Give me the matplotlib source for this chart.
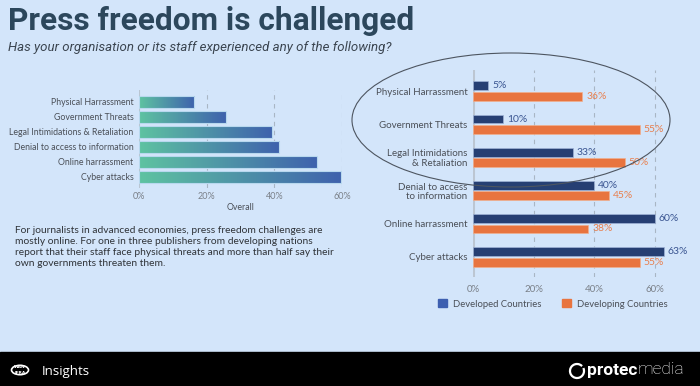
import numpy as np
import matplotlib
matplotlib.use("Agg")
import matplotlib.pyplot as plt
from matplotlib.colors import LinearSegmentedColormap
from matplotlib.patches import Ellipse, Rectangle, Circle, Arc

# overall chart (left)
overall_labels = ["Physical Harrassment", "Government Threats",
                  "Legal Intimidations & Retaliation", "Denial to access to information",
                  "Online harrassment", "Cyber attacks"]
overall_values = [16.3, 25.7, 39.3, 41.4, 52.6, 59.7]

# split chart (right)
split_labels = ["Physical Harrassment", "Government Threats",
                "Legal Intimidations\n& Retaliation", "Denial to access\nto information",
                "Online harrassment", "Cyber attacks"]
developed = [5, 10, 33, 40, 60, 63]
developing = [36, 55, 50, 45, 38, 55]
ticks = [0, 20, 40, 60]
tick_labels = ["0%", "20%", "40%", "60%"]

W, H = 700, 386
BG = "#d3e5fa"
TXT = "#4a4f57"
NAVY = "#263f73"
ORANGE = "#e8743f"

fig = plt.figure(figsize=(W / 100, H / 100), dpi=100)
fig.patch.set_facecolor(BG)


def fx(x):
    return x / W


def fy(y):
    return 1 - y / H


def add_axes_px(left, top, right, bottom):
    return fig.add_axes([fx(left), fy(bottom), (right - left) / W, (bottom - top) / H])


# title and subtitle
fig.text(fx(8), fy(21), "Press freedom is challenged", family="Roboto", weight="bold",
         fontsize=22.8, color="#2c475c", va="center", ha="left")
fig.text(fx(8), fy(47), "Has your organisation or its staff experienced any of the following?",
         family="Roboto", style="italic", fontsize=9.5, color="#3b4550", va="center", ha="left")

# ---- left chart: overall with gradient bars
ax1 = add_axes_px(139, 90, 342, 188)
ax1.set_facecolor("none")
y1 = np.arange(len(overall_labels))
for t in ticks[1:]:
    ax1.axvline(t, color="#a9b6c4", lw=0.8, ls=(0, (4, 4)), zorder=0)
ax1.axvline(0, color="#b9c5d2", lw=0.8, zorder=0)

cmap = LinearSegmentedColormap.from_list("tb", ["#5ec3a1", "#3f62ad"])
grad = np.linspace(0, 1, 256).reshape(1, -1)
bars = ax1.barh(y1, overall_values, height=0.82, facecolor="none",
                edgecolor="#b8d8ee", lw=0.8, zorder=3)
for b in bars:
    x0, yb = b.get_x(), b.get_y()
    im = ax1.imshow(grad, cmap=cmap, aspect="auto", zorder=2,
                    extent=[x0, x0 + b.get_width(), yb + b.get_height(), yb])
    im.set_clip_path(b)
ax1.set_xlim(0, 60)
ax1.set_ylim(5.75, -0.78)
ax1.set_yticks(y1)
ax1.set_yticklabels(overall_labels, family="Lato", fontsize=6.3, color=TXT)
ax1.set_xticks(ticks)
ax1.set_xticklabels(tick_labels, family="Lato", fontsize=6.5, color="#7a8088")
ax1.tick_params(length=0, pad=4)
ax1.tick_params(axis="x", pad=3)
ax1.set_xlabel("Overall", family="Lato", fontsize=6.3, color=TXT, labelpad=1)
for s in ax1.spines.values():
    s.set_visible(False)

# paragraph
para = ("For journalists in advanced economies, press freedom challenges are\n"
        "mostly online. For one in three publishers from developing nations\n"
        "report that their staff face physical threats and more than half say their\n"
        "own governments threaten them.")
fig.text(fx(15), fy(226), para, family="Lato", fontsize=7.4, color="#2f3338",
         va="top", ha="left", linespacing=1.28)

# ---- right chart: developed vs developing
ax2 = add_axes_px(473, 70, 670, 277)
ax2.set_facecolor("none")
y2 = np.arange(len(split_labels))
h = 0.27
ax2.barh(y2 - 0.16, developed, height=h, color=NAVY, edgecolor="#9fb3d6", lw=0.5,
         zorder=3, label="Developed Countries")
ax2.barh(y2 + 0.16, developing, height=h, color=ORANGE, edgecolor="#f1b08e", lw=0.5,
         zorder=3, label="Developing Countries")
for yy, v in zip(y2, developed):
    ax2.text(v + 1.3, yy - 0.16, f"{v}%", family="Lato", fontsize=7.5, color="#3a5591",
             va="center", ha="left", clip_on=False)
for yy, v in zip(y2, developing):
    ax2.text(v + 1.3, yy + 0.16, f"{v}%", family="Lato", fontsize=7.5, color="#e8804f",
             va="center", ha="left", clip_on=False)
ax2.set_xlim(0, 65)
ax2.set_ylim(5.61, -0.64)
for t in ticks[1:]:
    ax2.axvline(t, color="#a9b6c4", lw=0.8, ls=(0, (4, 4)), zorder=0)
ax2.axvline(0, color="#bcc6d2", lw=2.2, zorder=1)
ax2.set_yticks(y2)
ax2.set_yticklabels(split_labels, family="Lato", fontsize=7, color=TXT, linespacing=1.05)
ax2.set_xticks(ticks)
ax2.set_xticklabels(tick_labels, family="Lato", fontsize=7, color="#7a8088")
ax2.tick_params(length=0, pad=4)
ax2.tick_params(axis="x", pad=6)
for s in ax2.spines.values():
    s.set_visible(False)

handles = [Rectangle((0, 0), 1, 1, color="#3d5fb0"), Rectangle((0, 0), 1, 1, color=ORANGE)]
fig.legend(handles, ["Developed Countries", "Developing Countries"], loc="center",
           bbox_to_anchor=(fx(553), fy(304)), ncol=2, frameon=False,
           prop={"family": "Lato", "size": 6.8}, labelcolor=TXT,
           handlelength=0.9, handleheight=0.9, handletextpad=0.7, columnspacing=2.2)

# ellipse highlight
ell = Ellipse((fx(511), fy(120)), 318 / W, 134 / H, transform=fig.transFigure,
              fill=False, edgecolor="#4d5560", lw=0.8)
fig.add_artist(ell)

# footer
fig.add_artist(Rectangle((0, 0), 1, fy(352), transform=fig.transFigure,
                         color="black", zorder=5))
fig.add_artist(Circle((fx(20), fy(370)), 8.5 / W, transform=fig.transFigure,
                      fill=False, edgecolor="white", lw=1.2, zorder=6))
fig.text(fx(20), fy(367), "WAN", color="white", fontsize=3.2, weight="bold",
         ha="center", va="center", zorder=7)
fig.text(fx(20), fy(373), "IFRA", color="white", fontsize=3.2, weight="bold",
         ha="center", va="center", zorder=7)
fig.text(fx(42), fy(371), "Insights", family="Open Sans", fontsize=9.5, color="white",
         ha="left", va="center", zorder=7)
fig.add_artist(Arc((fx(577), fy(371)), 14 / W, 14 / H, theta1=60, theta2=400,
                   transform=fig.transFigure, edgecolor="white", lw=1.6, zorder=6))
t1 = fig.text(fx(587), fy(370), "protec", family="Roboto", weight="bold", fontsize=12.5,
              color="white", ha="left", va="center", zorder=7)
fig.canvas.draw()
bb = t1.get_window_extent()
fig.text(bb.x1 / W, fy(370), "media", family="Roboto", weight="light", fontsize=12.5,
         color="white", ha="left", va="center", zorder=7)

fig.savefig("out.png", dpi=100, facecolor=BG)
